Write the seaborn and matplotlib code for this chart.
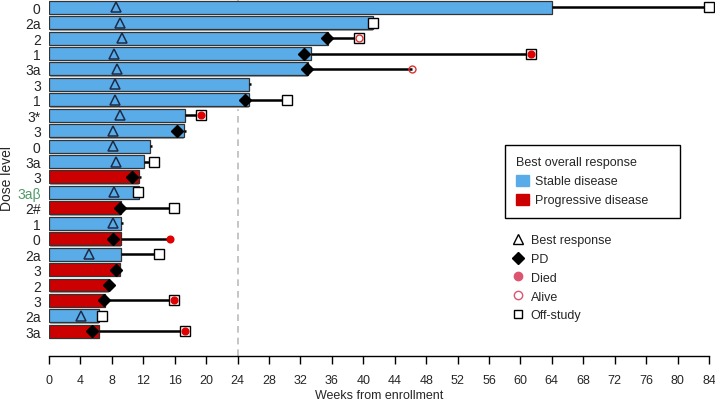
import numpy as np
import pandas as pd
import matplotlib
matplotlib.use("Agg")
import matplotlib.pyplot as plt
from matplotlib.patches import Patch
from matplotlib.lines import Line2D
import seaborn as sns

# one row per patient, top to bottom
dose = ["0", "2a", "2", "1", "3a", "3", "1", "3*", "3", "0", "3a", "3", "3aβ",
        "2#", "1", "0", "2a", "3", "2", "3", "2a", "3a"]
response = ["SD", "SD", "SD", "SD", "SD", "SD", "SD", "SD", "SD", "SD", "SD", "PD",
            "SD", "PD", "SD", "PD", "SD", "PD", "PD", "PD", "SD", "PD"]
on_treatment = [64.0, 41.2, 35.5, 33.3, 33.0, 25.45, 25.4, 17.3, 17.2, 12.9, 12.1, 11.5,
                11.4, 9.2, 9.2, 9.2, 9.1, 9.0, 7.6, 7.1, 6.4, 6.4]
best_resp = [8.5, 9.0, 9.3, 8.3, 8.7, 8.4, 8.4, 9.0, 8.2, 8.1, 8.5, np.nan,
             8.3, np.nan, 8.2, np.nan, 5.1, np.nan, np.nan, np.nan, 4.1, np.nan]
pd_week = [np.nan, np.nan, 35.4, 32.4, 32.8, np.nan, 25.0, np.nan, 16.3, np.nan, np.nan, 10.6,
           np.nan, 9.0, np.nan, 8.2, np.nan, 8.5, 7.6, 7.0, np.nan, 5.5]
follow_up = [84.0, 41.2, 39.5, 61.3, 46.2, 25.7, 30.3, 19.35, 17.4, 13.1, 13.3, 11.7,
             11.3, 15.9, 9.4, 15.4, 14.0, 9.2, 7.6, 15.9, 6.8, 17.35]
off_study = [84.0, 41.2, 39.5, 61.3, np.nan, np.nan, 30.3, 19.35, np.nan, np.nan, 13.3, np.nan,
             11.3, 15.9, np.nan, np.nan, 14.0, np.nan, np.nan, 15.9, 6.8, 17.35]
died = [np.nan, np.nan, np.nan, 61.3, np.nan, np.nan, np.nan, 19.35, np.nan, np.nan, np.nan, np.nan,
        np.nan, np.nan, np.nan, 15.4, np.nan, np.nan, np.nan, 15.9, np.nan, 17.35]
alive = [np.nan, np.nan, 39.5, np.nan, 46.2, np.nan, np.nan, np.nan, np.nan, np.nan, np.nan, np.nan,
         np.nan, np.nan, np.nan, np.nan, np.nan, np.nan, np.nan, np.nan, np.nan, np.nan]

BLUE = "#5aace9"
RED = "#cc0000"
PINK = "#dd5470"

sns.set_style("white")
plt.rcParams["font.family"] = ["Liberation Sans", "DejaVu Sans"]

df = pd.DataFrame({
    "row": [f"r{i}" for i in range(len(dose))],
    "weeks": on_treatment,
    "response": response,
})
pos = np.arange(len(dose))

fig = plt.figure(figsize=(7.15, 4.02), dpi=100)
ax = fig.add_axes([49 / 715, 1 - 357 / 402, 660 / 715, 356.5 / 402])

# gray shadow under each bar
ax.barh(pos + 0.09, on_treatment, height=0.84, color="#8f8f8f", zorder=1)
sns.barplot(data=df, x="weeks", y="row", hue="response", palette={"SD": BLUE, "PD": RED},
            dodge=False, width=0.84, orient="h", edgecolor="#333333", linewidth=0.9,
            saturation=1, legend=False, ax=ax, zorder=2)

# follow-up lines
for i in pos:
    if follow_up[i] > on_treatment[i]:
        ax.plot([on_treatment[i], follow_up[i]], [i, i], color="black", lw=1.8, zorder=3,
                solid_capstyle="butt")

ax.axvline(24, color="#bbbbbb", ls=(0, (4, 3)), lw=1.2, zorder=0)

ax.plot(off_study, pos, ls="none", marker="s", ms=6.5, mfc="white", mec="black", mew=1,
        zorder=4, clip_on=False)
ax.plot(died, pos, ls="none", marker="o", ms=4.8, mfc="#e00000", mec="#e00000", zorder=5)
ax.plot(alive, pos, ls="none", marker="o", ms=5, mfc="none", mec="#e03030", mew=1, zorder=5)
ax.plot(pd_week, pos, ls="none", marker="D", ms=6.5, mfc="black", mec="black", zorder=6)
ax.plot(best_resp, pos, ls="none", marker="^", ms=7.5, mfc="none", mec="#1c2c48", mew=1.1,
        zorder=6)

ax.set_xlim(0, 84)
ax.set_ylim(22.6, -0.5)
ax.set_xticks(np.arange(0, 85, 4))
ax.set_yticks(pos)
ax.set_yticklabels(dose)
for lab in ax.get_yticklabels():
    if lab.get_text() == "3aβ":
        lab.set_color("#4f9a6a")
ax.tick_params(axis="y", length=0, labelsize=10, pad=6)
ax.tick_params(axis="x", length=6, width=1, direction="out", labelsize=9, pad=7, color="black",
               bottom=True)
for s in ["top", "right", "left"]:
    ax.spines[s].set_visible(False)
ax.spines["bottom"].set_color("black")
ax.spines["bottom"].set_linewidth(1)
ax.set_xlabel("Weeks from enrollment", fontsize=9, labelpad=2)
ax.set_ylabel("Dose level", fontsize=10, labelpad=2)

leg1 = ax.legend(handles=[Patch(facecolor=BLUE, edgecolor=BLUE, label="Stable disease"),
                          Patch(facecolor=RED, edgecolor=RED, label="Progressive disease")],
                 title="Best overall response", loc="upper left", mode="expand",
                 bbox_to_anchor=(505 / 715, 1 - 221 / 402, 175 / 715, 75 / 402),
                 bbox_transform=fig.transFigure,
                 frameon=True, fancybox=False, edgecolor="black", framealpha=1,
                 fontsize=9, title_fontsize=9, handlelength=1.0, handleheight=1.0,
                 borderpad=0.9, labelspacing=0.5, handletextpad=0.5, borderaxespad=0)
leg1._legend_box.align = "left"
leg1.get_frame().set_linewidth(1)
ax.add_artist(leg1)

marker_handles = [
    Line2D([], [], ls="none", marker="^", ms=7, mfc="none", mec="black", label="Best response"),
    Line2D([], [], ls="none", marker="D", ms=6, mfc="black", mec="black", label="PD"),
    Line2D([], [], ls="none", marker="o", ms=6, mfc=PINK, mec=PINK, label="Died"),
    Line2D([], [], ls="none", marker="o", ms=6, mfc="none", mec=PINK, label="Alive"),
    Line2D([], [], ls="none", marker="s", ms=6, mfc="none", mec="black", label="Off-study"),
]
ax.legend(handles=marker_handles, loc="upper left", bbox_to_anchor=(507 / 715, 1 - 230 / 402),
          bbox_transform=fig.transFigure, frameon=False, fontsize=9, handlelength=1.0,
          handletextpad=0.5, labelspacing=0.55, borderaxespad=0)

fig.savefig("out.png", dpi=100)
